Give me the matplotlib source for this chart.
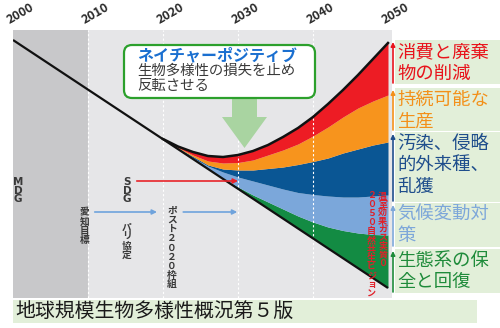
import numpy as np
import matplotlib.pyplot as plt
from matplotlib.patches import Rectangle, FancyBboxPatch, FancyArrow

plt.rcParams['font.family'] = ['Noto Sans CJK JP', 'DejaVu Sans']

# --- data (biodiversity level, arbitrary units) ---
tick_years = [2000, 2010, 2020, 2030, 2040, 2050]
tick_labels = ['2000', '2010', '2020', '2030', '2040', '2050']

trend_years = [2000, 2050]
trend = [260, 12]  # business-as-usual decline

years = [2020, 2022, 2024, 2026, 2028, 2030, 2032, 2034,
         2036, 2038, 2040, 2042, 2044, 2046, 2048, 2050]
bau = [161, 151, 141, 131, 121, 111, 101, 91, 82, 72, 62, 52, 42, 32, 22, 12]
green_top = [161, 151.2, 141.6, 131.8, 122, 113, 105, 98, 91, 84, 78, 73, 69.5, 67, 65.5, 65]
lblue_top = [161, 151.6, 142.2, 134, 128, 123, 119, 115, 111, 107.5, 105.5, 104, 103, 103, 104, 105]
blue_top = [161, 152, 143.5, 135, 131, 130, 130, 131.5, 133, 135.5, 138.5, 142, 147, 151, 155, 158]
orange_top = [161, 152.5, 145, 139, 137, 137.5, 140, 145, 150, 156, 164, 173, 183, 192, 199, 205]
nature_positive = [161, 153.5, 148, 144, 143, 145, 149, 155, 163, 172, 183, 196, 210, 225, 241, 257]

band_colors = ['#138b43', '#7ba7da', '#0a5694', '#f7941d', '#ed1c24']
band_labels = [['消費と廃棄', '物の削減'],
               ['持続可能な', '生産'],
               ['汚染、侵略', '的外来種、', '乱獲'],
               ['気候変動対', '策'],
               ['生態系の保', '全と回復']]
label_colors = ['#e8141c', '#f39019', '#1f4e8c', '#7da7d9', '#1e8b3a']

W, H = 500, 328
fig = plt.figure(figsize=(W / 100, H / 100), dpi=100)

# main chart axes: x=year, y=level (1 unit = 1 px)
ax = fig.add_axes([13 / W, 1 - 298 / H, 379 / W, 268 / H])
x1 = 2000 + 379 / 7.5
ax.set_xlim(2000, x1)
ax.set_ylim(2, 270)
ax.axis('off')
ax.axvspan(2000, 2010, color='#c8c8ca', lw=0)
ax.axvspan(2010, x1, color='#e6e6e8', lw=0)
for yr in tick_years[1:-1]:
    ax.axvline(yr, color='white', ls=(0, (2, 2)), lw=0.8)

lows = [bau, green_top, lblue_top, blue_top, orange_top]
highs = [green_top, lblue_top, blue_top, orange_top, nature_positive]
for lo, hi, c in zip(lows, highs, band_colors):
    ax.fill_between(years, lo, hi, color=c, lw=0)
ax.plot(trend_years, trend, color='#111', lw=1.6, solid_capstyle='butt')
ax.plot(years, nature_positive, color='#111', lw=1.8)

for yr, lab in zip(tick_years, tick_labels):
    ax.text(yr + 1.0, 273, lab, rotation=30, ha='center', va='bottom',
            fontsize=9, fontweight='bold', color='#2a2a2a', clip_on=False)


def vtext(x, y_top, s, pitch, **kw):
    for i, ch in enumerate(s):
        ax.text(x, y_top - i * pitch, ch, ha='center', va='center', **kw)


latin = dict(fontsize=7.5, fontweight='bold', color='#3a3a3a', family='DejaVu Sans')
vtext(2000.7, 118, 'MDG', 8.5, **latin)
vtext(2015.2, 118, 'SDG', 8.5, **latin)
small = dict(fontsize=7, fontweight='bold', color='#3a3a3a')
vtext(2009.5, 88, '愛知目標', 9.3, **small)
vtext(2015.2, 72, 'パリ協定', 9.0, **small)
vtext(2021.2, 89, 'ポスト２０２０枠組', 9.1, **small)
red = dict(fontsize=6.5, fontweight='bold', color='#e0202a')
vtext(2049.3, 104, '温室効果ガス実質０', 8.4, **red)
vtext(2047.8, 104, '２０５０自然共生ビジョン', 8.9, **red)

arr = dict(arrowstyle='-|>', lw=1.2, mutation_scale=7, shrinkA=0, shrinkB=0)
ax.annotate('', xy=(2019.2, 88), xytext=(2010.9, 88), arrowprops=dict(color='#6fa3dc', **arr))
ax.annotate('', xy=(2029.9, 88), xytext=(2022.7, 88), arrowprops=dict(color='#6fa3dc', **arr))
ax.annotate('', xy=(2030.0, 119), xytext=(2016.5, 119), arrowprops=dict(color='#e8242a', **arr))

# overlay in pixel coordinates for callouts and side labels
ov = fig.add_axes([0, 0, 1, 1], zorder=5)
ov.set_xlim(0, W)
ov.set_ylim(H, 0)
ov.axis('off')

ov.add_patch(FancyArrow(244.5, 97, 0, 51, width=25, head_width=45, head_length=31,
                        length_includes_head=True, color='#a9d4a1', lw=0))
ov.add_patch(FancyBboxPatch((124, 45), 191, 53, boxstyle='round,pad=0,rounding_size=8',
                            fc='white', ec='#2ca02c', lw=1.6))
ov.text(137, 55, 'ネイチャーポジティブ', color='#1a6fd0', fontsize=11.5,
        fontweight='bold', ha='left', va='center')
ov.text(137, 71, '生物多様性の損失を止め', color='#3a3a3a', fontsize=10.4, ha='left', va='center')
ov.text(137, 86, '反転させる', color='#3a3a3a', fontsize=10.4, ha='left', va='center')

boxes = [(40, 85), (88, 132), (132, 203), (203, 248), (249, 294)]
for (top, bot), lines, c in zip(boxes, band_labels, label_colors):
    ov.add_patch(Rectangle((395, top), 105, bot - top - 1, color='#e2efd9', lw=0))
    for i, t in enumerate(lines):
        ov.text(397, top + 12 + i * 21.5, t, color=c, fontsize=13.2, ha='left', va='center')
    ov.annotate('', xy=(393, top + 2), xytext=(393, bot - 2),
                arrowprops=dict(arrowstyle='-|>', color=c, lw=1.2, mutation_scale=6,
                                shrinkA=0, shrinkB=0))

ov.add_patch(Rectangle((13, 300), 464, 23, color='#e2efd9', lw=0))
ov.text(15, 311.5, '地球規模生物多様性概況第５版', color='#1a1a1a', fontsize=14.3,
        ha='left', va='center')

fig.savefig('out.png', dpi=100)
